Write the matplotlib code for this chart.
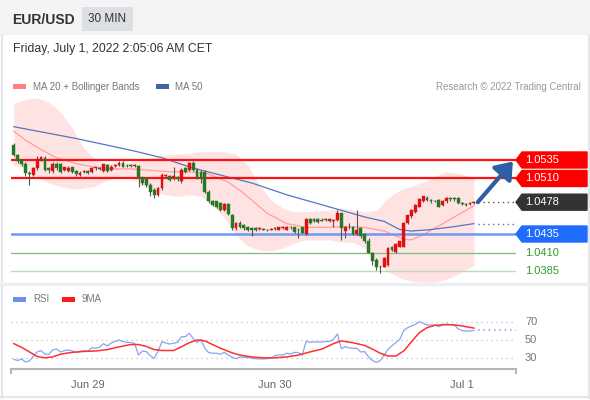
import matplotlib
matplotlib.use("Agg")
import matplotlib.pyplot as plt
import matplotlib.transforms as mtransforms
from matplotlib.patches import Polygon, Rectangle
import numpy as np
import pandas as pd

plt.rcParams['font.family'] = ['Liberation Sans', 'DejaVu Sans']

# EUR/USD 30 min candles
start_time = '2022-06-28 14:30'
opens = [1.0555, 1.0542, 1.0535, 1.0530, 1.0517, 1.0515, 1.0524, 1.0535, 1.0538, 1.0524,
         1.0520, 1.0530, 1.0530, 1.0521, 1.0520, 1.0525, 1.0520, 1.0515, 1.0519, 1.0520,
         1.0519, 1.0524, 1.0524, 1.0520, 1.0528, 1.0521, 1.0527, 1.0528, 1.0531, 1.0527,
         1.0528, 1.0527, 1.0527, 1.0510, 1.0510, 1.0501, 1.0495, 1.0488, 1.0497, 1.0513,
         1.0513, 1.0512, 1.0512, 1.0506, 1.0524, 1.0521, 1.0531, 1.0521, 1.0519, 1.0519,
         1.0492, 1.0479, 1.0479, 1.0477, 1.0468, 1.0476, 1.0461, 1.0443, 1.0450, 1.0447,
         1.0445, 1.0443, 1.0443, 1.0442, 1.0442, 1.0441, 1.0441, 1.0443, 1.0441, 1.0443,
         1.0441, 1.0445, 1.0444, 1.0441, 1.0444, 1.0435, 1.0455, 1.0455, 1.0455, 1.0454,
         1.0455, 1.0453, 1.0453, 1.0454, 1.0463, 1.0439, 1.0445, 1.0445, 1.0435, 1.0443,
         1.0435, 1.0425, 1.0409, 1.0400, 1.0390, 1.0391, 1.0393, 1.0418, 1.0411, 1.0418,
         1.0418, 1.0450, 1.0459, 1.0465, 1.0472, 1.0480, 1.0484, 1.0481, 1.0480, 1.0481,
         1.0474, 1.0479, 1.0483, 1.0483, 1.0483, 1.0477, 1.0476, 1.0475, 1.0477]
highs = [1.0558, 1.0543, 1.0537, 1.0532, 1.0520, 1.0526, 1.0540, 1.0540, 1.0540, 1.0526,
         1.0532, 1.0532, 1.0531, 1.0526, 1.0527, 1.0526, 1.0521, 1.0520, 1.0521, 1.0521,
         1.0525, 1.0526, 1.0525, 1.0530, 1.0530, 1.0528, 1.0530, 1.0533, 1.0533, 1.0529,
         1.0529, 1.0530, 1.0528, 1.0513, 1.0512, 1.0504, 1.0497, 1.0498, 1.0518, 1.0516,
         1.0515, 1.0526, 1.0513, 1.0524, 1.0526, 1.0532, 1.0533, 1.0524, 1.0521, 1.0521,
         1.0494, 1.0481, 1.0480, 1.0478, 1.0477, 1.0477, 1.0462, 1.0451, 1.0452, 1.0449,
         1.0446, 1.0445, 1.0444, 1.0444, 1.0443, 1.0442, 1.0443, 1.0445, 1.0445, 1.0446,
         1.0446, 1.0446, 1.0445, 1.0443, 1.0445, 1.0456, 1.0456, 1.0457, 1.0456, 1.0456,
         1.0457, 1.0457, 1.0455, 1.0468, 1.0464, 1.0446, 1.0450, 1.0446, 1.0468, 1.0444,
         1.0436, 1.0429, 1.0411, 1.0402, 1.0393, 1.0404, 1.0418, 1.0419, 1.0423, 1.0426,
         1.0451, 1.0461, 1.0469, 1.0476, 1.0484, 1.0487, 1.0486, 1.0482, 1.0481, 1.0482,
         1.0481, 1.0485, 1.0485, 1.0485, 1.0485, 1.0478, 1.0477, 1.0478, 1.0479]
lows = [1.0540, 1.0531, 1.0527, 1.0513, 1.0501, 1.0513, 1.0522, 1.0534, 1.0520, 1.0518,
        1.0518, 1.0522, 1.0518, 1.0520, 1.0519, 1.0518, 1.0514, 1.0513, 1.0517, 1.0516,
        1.0518, 1.0521, 1.0521, 1.0519, 1.0519, 1.0520, 1.0526, 1.0527, 1.0525, 1.0526,
        1.0525, 1.0525, 1.0499, 1.0501, 1.0499, 1.0486, 1.0483, 1.0486, 1.0495, 1.0511,
        1.0506, 1.0508, 1.0507, 1.0504, 1.0518, 1.0520, 1.0520, 1.0509, 1.0504, 1.0491,
        1.0477, 1.0473, 1.0470, 1.0466, 1.0466, 1.0460, 1.0441, 1.0441, 1.0443, 1.0441,
        1.0439, 1.0432, 1.0439, 1.0441, 1.0440, 1.0439, 1.0440, 1.0441, 1.0440, 1.0442,
        1.0440, 1.0442, 1.0437, 1.0430, 1.0436, 1.0433, 1.0449, 1.0451, 1.0450, 1.0452,
        1.0453, 1.0451, 1.0445, 1.0453, 1.0427, 1.0429, 1.0442, 1.0433, 1.0433, 1.0430,
        1.0423, 1.0409, 1.0393, 1.0387, 1.0382, 1.0390, 1.0392, 1.0412, 1.0410, 1.0417,
        1.0417, 1.0448, 1.0457, 1.0464, 1.0471, 1.0478, 1.0480, 1.0477, 1.0478, 1.0471,
        1.0473, 1.0477, 1.0480, 1.0480, 1.0475, 1.0474, 1.0473, 1.0474, 1.0475]
closes = [1.0542, 1.0534, 1.0529, 1.0517, 1.0516, 1.0524, 1.0537, 1.0539, 1.0521, 1.0521,
          1.0530, 1.0524, 1.0519, 1.0525, 1.0524, 1.0519, 1.0516, 1.0518, 1.0520, 1.0518,
          1.0524, 1.0525, 1.0523, 1.0529, 1.0520, 1.0526, 1.0528, 1.0531, 1.0526, 1.0527,
          1.0527, 1.0528, 1.0510, 1.0504, 1.0501, 1.0492, 1.0488, 1.0497, 1.0515, 1.0515,
          1.0508, 1.0514, 1.0509, 1.0521, 1.0519, 1.0531, 1.0521, 1.0510, 1.0510, 1.0492,
          1.0479, 1.0474, 1.0472, 1.0468, 1.0476, 1.0462, 1.0443, 1.0450, 1.0445, 1.0443,
          1.0441, 1.0440, 1.0441, 1.0443, 1.0441, 1.0440, 1.0442, 1.0442, 1.0444, 1.0444,
          1.0445, 1.0444, 1.0438, 1.0440, 1.0437, 1.0455, 1.0450, 1.0453, 1.0451, 1.0453,
          1.0454, 1.0455, 1.0454, 1.0463, 1.0443, 1.0445, 1.0444, 1.0435, 1.0441, 1.0432,
          1.0425, 1.0410, 1.0398, 1.0391, 1.0391, 1.0402, 1.0416, 1.0414, 1.0421, 1.0425,
          1.0450, 1.0460, 1.0468, 1.0474, 1.0482, 1.0486, 1.0481, 1.0479, 1.0479, 1.0472,
          1.0480, 1.0483, 1.0482, 1.0482, 1.0477, 1.0475, 1.0474, 1.0477, 1.0478]

# moving averages / Bollinger bands sampled along the candles
ma50_idx = [0, 7, 16, 24, 31, 38, 46, 55, 61, 70, 80, 90, 95, 99, 102, 107, 113, 118]
ma50 = [1.0580, 1.0573, 1.0564, 1.0555, 1.0547, 1.0538, 1.0524, 1.0512, 1.0504, 1.0488,
        1.0473, 1.0458, 1.0452, 1.0441, 1.0439, 1.0441, 1.0445, 1.0449]
ma20_idx = [0, 3, 7, 11, 16, 20, 25, 30, 35, 40, 45, 50, 55, 58, 61, 65, 70, 75, 80, 85,
            90, 95, 100, 102, 105, 110, 114, 118]
ma20 = [1.0574, 1.0562, 1.0549, 1.0538, 1.0530, 1.0526, 1.0523, 1.0523, 1.0521, 1.0519,
        1.0519, 1.0516, 1.0505, 1.0494, 1.0481, 1.0463, 1.0449, 1.0444, 1.0444, 1.0445,
        1.0444, 1.0439, 1.0428, 1.0427, 1.0434, 1.0449, 1.0461, 1.0473]
bb_idx = [0, 3, 6, 9, 12, 15, 18, 21, 24, 27, 30, 33, 36, 39, 42, 45, 48, 51, 54, 57,
          60, 63, 66, 69, 72, 75, 78, 81, 84, 87, 90, 93, 96, 99, 102, 105, 108, 111, 114, 118]
bb_upper = [1.0611, 1.0617, 1.0619, 1.0613, 1.0600, 1.0578, 1.0551, 1.0535, 1.0531, 1.0531,
            1.0531, 1.0535, 1.0539, 1.0542, 1.0543, 1.0544, 1.0546, 1.0546, 1.0546, 1.0543,
            1.0528, 1.0501, 1.0481, 1.0470, 1.0465, 1.0465, 1.0466, 1.0467, 1.0470, 1.0467,
            1.0465, 1.0467, 1.0484, 1.0494, 1.0500, 1.0505, 1.0513, 1.0519, 1.0517, 1.0511]
bb_lower = [1.0528, 1.0524, 1.0513, 1.0504, 1.0499, 1.0496, 1.0497, 1.0500, 1.0508, 1.0512,
            1.0512, 1.0501, 1.0492, 1.0488, 1.0486, 1.0488, 1.0486, 1.0474, 1.0457, 1.0434,
            1.0419, 1.0413, 1.0412, 1.0416, 1.0423, 1.0427, 1.0427, 1.0427, 1.0424, 1.0424,
            1.0416, 1.0397, 1.0384, 1.0376, 1.0371, 1.0370, 1.0370, 1.0374, 1.0381, 1.0393]

# RSI and its 9 period MA
rsi = [28.9, 27.5, 29.3, 26.0, 27.0, 32.2, 36.9, 38.4, 34.4, 34.4,
       39.1, 40.2, 36.9, 38.4, 39.1, 38.0, 36.5, 37.6, 38.4, 37.6,
       41.6, 40.9, 42.0, 46.0, 43.5, 46.7, 48.5, 50.0, 48.2, 47.5,
       47.1, 46.4, 33.6, 38.0, 37.3, 32.9, 30.0, 37.3, 48.2, 46.7,
       45.6, 46.4, 47.5, 53.6, 53.6, 57.3, 51.8, 47.1, 50.7, 40.9,
       36.2, 35.5, 35.5, 34.4, 36.5, 33.6, 31.1, 29.6, 31.5, 31.1,
       31.0, 30.0, 29.6, 29.3, 29.3, 29.6, 30.0, 32.9, 33.6, 33.6,
       35.5, 34.7, 36.5, 36.2, 33.6, 48.9, 47.5, 47.8, 47.8, 47.8,
       48.2, 48.5, 50.7, 56.5, 40.5, 42.7, 41.3, 40.9, 40.9, 36.9,
       37.3, 31.5, 27.5, 25.6, 27.5, 33.6, 39.8, 43.8, 47.1, 50.7,
       60.2, 63.5, 65.3, 67.0, 70.0, 68.2, 66.4, 66.4, 66.4, 64.5,
       66.4, 66.4, 66.7, 66.4, 62.0, 60.2, 59.8, 59.8, 60.5]
rsi_ma_idx = [0, 2, 4, 6, 8, 10, 12, 15, 18, 21, 24, 27, 30, 32, 34, 36, 38, 41, 43, 45,
              47, 49, 51, 53, 56, 58, 61, 64, 67, 70, 73, 76, 79, 82, 84, 87, 90, 92, 94, 96,
              98, 100, 102, 104, 106, 108, 111, 114, 116, 118]
rsi_ma = [46, 42, 37, 32, 30.5, 31.5, 34.5, 36.5, 37.5, 38, 39.5, 42.5, 45, 45, 43, 39.5,
          38.5, 38.5, 42.5, 47, 50, 49, 45, 41, 36, 33.5, 31.5, 30.5, 30.5, 31.5, 33.5, 37,
          40, 46, 49, 47, 44, 40, 35.5, 32.5, 32.5, 38, 48, 58, 63.5, 66, 67, 66, 64.5, 63]
rsi_levels = [70, 50, 30]

resistances = [1.0535, 1.0510]
pivot = 1.0435
supports = [1.0410, 1.0385]
last_price = 1.0478

# ---------------------------------------------------------------
o = np.array(opens); h = np.array(highs); l = np.array(lows); c = np.array(closes)
n = len(c)
idx = np.arange(n)
times = pd.date_range(start_time, periods=n, freq='30min')

W, H = 590, 400
fig = plt.figure(figsize=(W / 100, H / 100), dpi=100)


def frac(x0, y0, x1, y1):
    # pixel box (origin top-left) -> figure fraction rect
    return [x0 / W, 1 - y1 / H, (x1 - x0) / W, (y1 - y0) / H]


deco = fig.add_axes([0, 0, 1, 1])
deco.set_xlim(0, W)
deco.set_ylim(H, 0)
deco.axis('off')

ax = fig.add_axes(frac(11, 95, 516, 283))
ax_rsi = fig.add_axes(frac(11, 290, 516, 369))
for a in (ax, ax_rsi):
    a.patch.set_alpha(0)
xlim = (-0.7, n + 9.8)
ax.set_xlim(*xlim)
ax.set_ylim(1.03688, 1.06228)
ax.axis('off')

# header
deco.add_patch(Rectangle((0, 0), W, 35, color='#f4f4f4', lw=0))
deco.text(12, 20, 'EUR/USD', fontsize=10, fontweight='bold', color='#333333', va='center')
deco.add_patch(Rectangle((82, 7), 51, 24, color='#dcdfe4', lw=0))
deco.text(107.5, 19.5, '30 MIN', fontsize=8.5, color='#333333', ha='center', va='center')
deco.text(13, 49, 'Friday, July 1, 2022 2:05:06 AM CET', fontsize=8.8, color='#333333', va='center')

# card borders
deco.plot([1.5, 1.5], [35, 397.5], color='#e4e7eb', lw=1.5)
deco.plot([588.5, 588.5], [35, 397.5], color='#e4e7eb', lw=1.5)
deco.plot([1, 589], [397, 397], color='#e4e7eb', lw=1.5)
deco.plot([1, 589], [284, 284], color='#eceef1', lw=2.5)

# legends
deco.add_patch(Rectangle((13, 84), 13, 4.5, color='#ff8080', lw=0))
deco.text(33, 86.5, 'MA 20 + Bollinger Bands', fontsize=7, color='#777777', va='center')
deco.add_patch(Rectangle((156, 84), 13, 4.5, color='#3d62a8', lw=0))
deco.text(175, 86.5, 'MA 50', fontsize=7, color='#777777', va='center')
deco.text(581, 86.5, 'Research \u00a9 2022 Trading Central', fontsize=7, color='#999999',
          ha='right', va='center')
deco.add_patch(Rectangle((13, 297), 13, 4.5, color='#6f8fe6', lw=0))
deco.text(33, 299, 'RSI', fontsize=7, color='#777777', va='center')
deco.add_patch(Rectangle((62, 297), 13, 4.5, color='#ff1a1a', lw=0))
deco.text(82, 299, '9MA', fontsize=7, color='#777777', va='center')

# Bollinger bands, MAs
ax.fill_between(bb_idx, bb_lower, bb_upper, color='#ffe2e2', lw=0, zorder=1)
ax.plot(ma20_idx, ma20, color='#ff9e9e', lw=0.9, zorder=2)
ax.plot(ma50_idx, ma50, color='#5577bb', lw=0.9, zorder=2)

# levels
for lv in resistances:
    ax.axhline(lv, color='#ff1010', lw=1.6, zorder=2.5)
ax.axhline(pivot, color='#6a9af4', lw=1.8, zorder=2.5)
ax.axhline(supports[0], color='#87bd87', lw=1.0, zorder=2.5)
ax.axhline(supports[1], color='#b8dcb8', lw=1.0, zorder=2.5)

# candles
body = c - o
colors = np.where(body > 0, '#e01010', np.where(body < 0, '#237a23', '#555555'))
heights = np.where(np.abs(body) < 4e-5, 4e-5, np.abs(body))
ax.vlines(idx, l, h, color='#555555', lw=0.8, zorder=4)
ax.bar(idx, heights, bottom=np.minimum(o, c), width=0.72, color=colors,
       edgecolor=colors, lw=0.3, zorder=5)

# projections to the right
ax.hlines(last_price, n, xlim[1], colors='#555555', linestyles=(0, (1, 2.5)), lw=1)
ax.hlines(ma50[-1], n, xlim[1], colors='#4d72b8', linestyles=(0, (1, 2.5)), lw=1)
ax.annotate('', xy=(n + 9, resistances[0] - 0.0002), xytext=(n, last_price),
            arrowprops=dict(arrowstyle='-|>,head_length=0.6,head_width=0.45',
                            color='#2e5fa6', lw=3, mutation_scale=16,
                            shrinkA=0, shrinkB=0), zorder=6)

# price tags
tr = mtransforms.blended_transform_factory(deco.transData, ax.transData)
yl = ax.get_ylim()
hh = 8 * (yl[1] - yl[0]) / 188
tags = [(resistances[0], '#ff0000'), (resistances[1], '#ff0000'),
        (last_price, '#333333'), (pivot, '#1f6cff')]
for lv, col in tags:
    poly = Polygon([(516, lv), (522, lv + hh), (587, lv + hh), (587, lv - hh), (522, lv - hh)],
                   closed=True, color=col, transform=tr, clip_on=False, zorder=7)
    ax.add_patch(poly)
    ax.text(525, lv, f'{lv:.4f}', transform=tr, color='white', fontsize=8,
            va='center', clip_on=False, zorder=8)
for lv in supports:
    ax.text(525, lv, f'{lv:.4f}', transform=tr, color='#2f9a2f', fontsize=8,
            va='center', clip_on=False)

# RSI panel
ax_rsi.set_xlim(*xlim)
ax_rsi.set_ylim(18.3, 104.6)
for s in ('top', 'right', 'left'):
    ax_rsi.spines[s].set_visible(False)
ax_rsi.spines['bottom'].set_color('#b5b5b5')
ax_rsi.spines['bottom'].set_linewidth(1.5)
ax_rsi.hlines(rsi_levels, xlim[0], xlim[1], colors='#c0c0c0', linestyles=(0, (1, 3)), lw=0.9)
ax_rsi.plot(idx, rsi, color='#86a4f0', lw=0.9)
ax_rsi.plot(rsi_ma_idx, rsi_ma, color='#ff3030', lw=1.1)
ax_rsi.hlines(rsi[-1], n, xlim[1], colors='#7a9cf0', linestyles=(0, (1, 2.5)), lw=1.1)
ax_rsi.vlines(xlim, 18.3 - 6, 18.3, colors='#b5b5b5', lw=1.5, clip_on=False)
ax_rsi.set_yticks([])
mids = [i for i, t in enumerate(times) if t.hour == 0 and t.minute == 0]
ax_rsi.set_xticks(mids)
ax_rsi.set_xticklabels([f'{times[i]:%b} {times[i].day}' for i in mids])
ax_rsi.tick_params(axis='x', length=0, pad=8, labelsize=8, labelcolor='#666666')
tr_r = mtransforms.blended_transform_factory(deco.transData, ax_rsi.transData)
for v in rsi_levels:
    ax_rsi.text(525, v, str(v), transform=tr_r, color='#777777', fontsize=8,
                va='center', clip_on=False)

fig.savefig('out.png', dpi=100)
